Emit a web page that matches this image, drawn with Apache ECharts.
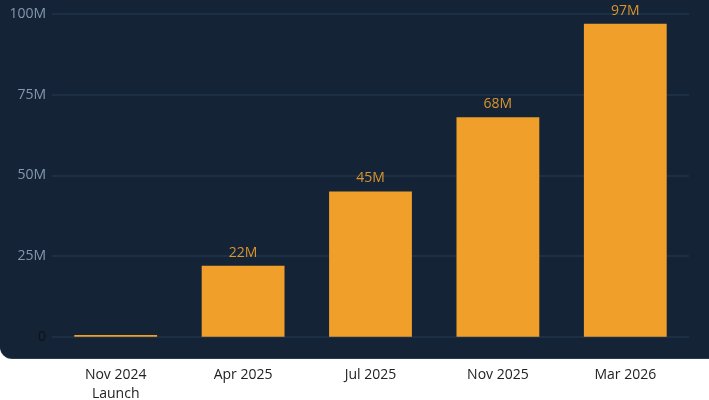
<!DOCTYPE html>
<html>
<head>
<meta charset="utf-8">
<script src="https://cdn.jsdelivr.net/npm/echarts@6/dist/echarts.min.js"></script>
<style>
html,body{margin:0;padding:0;background:#ffffff;width:709px;height:400px;overflow:hidden;}
#panel{position:absolute;left:0;top:-30px;width:740px;height:388px;background:#142335;border-radius:0 0 12px 12px;box-shadow:0 1px 0 #2b3d52;}
#chart{position:absolute;left:0;top:0;width:709px;height:400px;}
</style>
</head>
<body>
<div id="panel"></div>
<div id="chart"></div>
<script>
const categories = ['Nov 2024\nLaunch', 'Apr 2025', 'Jul 2025', 'Nov 2025', 'Mar 2026'];
const users = [0.5, 22, 45, 68, 97];
const valueLabels = ['', '22M', '45M', '68M', '97M'];
const yTicks = [0, 25, 50, 75, 100];

const chart = echarts.init(document.getElementById('chart'), null, {renderer: 'canvas'});
chart.setOption({
  backgroundColor: 'transparent',
  animation: false,
  grid: {left: 52, right: 20, top: 14, bottom: 63.3, containLabel: false, outerBoundsMode: 'none'},
  xAxis: {
    type: 'category',
    data: categories,
    axisLine: {show: false},
    axisTick: {show: false},
    axisLabel: {
      color: '#222222', fontSize: 14, fontFamily: 'Open Sans', margin: 29, lineHeight: 19
    }
  },
  yAxis: {
    type: 'value',
    min: 0, max: 100, interval: 25,
    axisLine: {show: false},
    axisTick: {show: false},
    splitLine: {lineStyle: {color: '#20344b', width: 1.5}},
    axisLabel: {
      fontSize: 14, fontFamily: 'Open Sans', margin: 6,
      color: function (v, i) { return Number(v) === 0 ? '#111111' : '#8497ad'; },
      formatter: function (v) { return yTicks.indexOf(v) >= 0 ? (v === 0 ? '0' : v + 'M') : ''; }
    }
  },
  series: [{
    type: 'bar',
    data: users,
    barWidth: '65%',
    itemStyle: {color: '#f0a02a'},
    label: {
      show: true, position: 'top', distance: 6,
      color: '#d9952e', fontSize: 14, fontFamily: 'Open Sans',
      formatter: function (p) { return valueLabels[p.dataIndex]; }
    }
  }]
});
</script>
</body>
</html>
